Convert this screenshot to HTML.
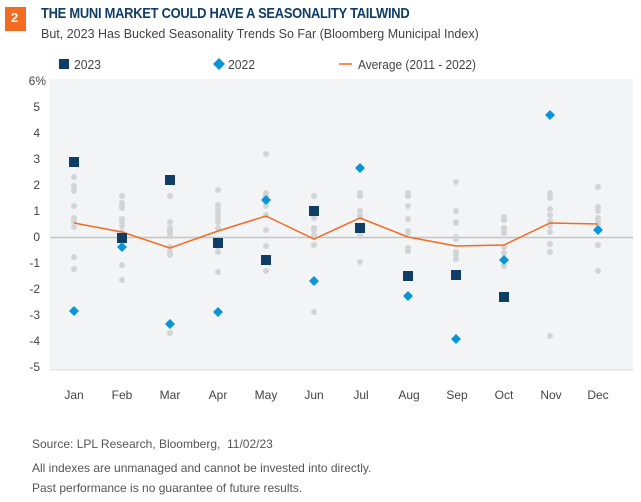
<!DOCTYPE html><html><head><style>
body{margin:0;width:641px;height:502px;background:#fff;font-family:"Liberation Sans",sans-serif;position:relative;overflow:hidden}
.t{position:absolute;white-space:nowrap;transform-origin:0 0}
</style></head><body>
<div style="position:absolute;left:5px;top:7px;width:21px;height:24px;background:#f26b21"></div>
<div class="t" style="left:11px;top:10px;color:#fff;font-weight:bold;font-size:13px">2</div>
<div class="t" style="left:41px;top:5px;color:#0f3d66;font-weight:bold;font-size:15px;letter-spacing:-0.3px;transform:scaleX(0.86)">THE MUNI MARKET COULD HAVE A SEASONALITY TAILWIND</div>
<div class="t" style="left:41px;top:27px;color:#444;font-size:12.5px">But, 2023 Has Bucked Seasonality Trends So Far (Bloomberg Municipal Index)</div>
<svg width="641" height="502" style="position:absolute;left:0;top:0">
<rect x="50" y="79" width="583" height="291" fill="#f2f4f6"/>
<line x1="50" y1="370" x2="633" y2="370" stroke="#ddd"/>
<line x1="50" y1="237.5" x2="633" y2="237.5" stroke="#c4c4c4" stroke-width="1.5"/>
<g font-size="12" fill="#444" text-anchor="end">
<text x="46" y="85">6%</text><text x="40" y="111">5</text><text x="40" y="137">4</text><text x="40" y="163">3</text><text x="40" y="189">2</text><text x="40" y="215">1</text><text x="40" y="241">0</text><text x="40" y="267">-1</text><text x="40" y="293">-2</text><text x="40" y="319">-3</text><text x="40" y="345">-4</text><text x="40" y="371">-5</text>
</g>
<g font-size="12" fill="#444" text-anchor="middle">
<text x="74" y="399">Jan</text><text x="122" y="399">Feb</text><text x="170" y="399">Mar</text><text x="218" y="399">Apr</text><text x="266" y="399">May</text><text x="314" y="399">Jun</text><text x="361" y="399">Jul</text><text x="409" y="399">Aug</text><text x="457" y="399">Sep</text><text x="504" y="399">Oct</text><text x="551" y="399">Nov</text><text x="598" y="399">Dec</text>
</g>
<g fill="#d3d4d6" id="d"></g>
<polyline fill="none" stroke="#f26b21" stroke-width="1.5" points="74,223 122,232 170,248 218,231 266,216 314,239 360,218 408,237 456,246 504,245 550,223 598,224"/>
<g id="s" fill="#0f3d66"></g>
<g id="k" fill="#0a96d6"></g>
<rect x="59" y="59" width="10" height="10" fill="#0f3d66"/>
<text x="74" y="69" font-size="13" fill="#444" textLength="27" lengthAdjust="spacingAndGlyphs">2023</text>
<path d="M219,58 L225,64 L219,70 L213,64Z" fill="#0a96d6"/>
<text x="228" y="69" font-size="13" fill="#444" textLength="27" lengthAdjust="spacingAndGlyphs">2022</text>
<line x1="339" y1="64" x2="352" y2="64" stroke="#f26b21" stroke-width="1.5"/>
<text x="358" y="69" font-size="13" fill="#444" textLength="118" lengthAdjust="spacingAndGlyphs">Average (2011 - 2022)</text>
</svg>
<div class="t" style="left:32px;top:437px;color:#555;font-size:12px">Source: LPL Research, Bloomberg,&nbsp; 11/02/23</div>
<div class="t" style="left:32px;top:461px;color:#555;font-size:12px">All indexes are unmanaged and cannot be invested into directly.</div>
<div class="t" style="left:32px;top:481px;color:#555;font-size:12px">Past performance is no guarantee of future results.</div>
<script>
var ns="http://www.w3.org/2000/svg";
var xs=[74,122,170,218,266,314,360,408,456,504,550,598];
var g=[[177,186,191,206,218,221,227,257,269],[196,203,206,208,219,222,226,232,248,265,280],[196,222,228,231,234,236,247,252,255,333],[190,205,209,214,218,222,228,247,252,272],[154,193,196,202,206,215,230,246,271],[196,218,228,230,235,237,245,312],[193,196,211,216,232,236,262],[193,196,206,219,231,233,248,251],[182,211,222,223,237,239,252,255,259],[217,220,228,231,233,247,253,266],[193,198,209,215,221,226,232,244,252,336],[187,207,211,218,220,224,227,245,271]];
var d=document.getElementById('d');
g.forEach(function(a,i){a.forEach(function(y){var c=document.createElementNS(ns,'circle');c.setAttribute('cx',xs[i]);c.setAttribute('cy',y);c.setAttribute('r',3);d.appendChild(c);});});
var sq=[162,238,180,243,260,211,228,276,275,297,null,null];
var s=document.getElementById('s');
sq.forEach(function(y,i){if(y==null)return;var r=document.createElementNS(ns,'rect');r.setAttribute('x',xs[i]-5);r.setAttribute('y',y-5);r.setAttribute('width',10);r.setAttribute('height',10);s.appendChild(r);});
var dm=[311,247,324,312,200,281,168,296,339,260,115,230];
var k=document.getElementById('k');
dm.forEach(function(y,i){var p=document.createElementNS(ns,'path');var x=xs[i];p.setAttribute('d','M'+x+','+(y-5)+' L'+(x+5)+','+y+' L'+x+','+(y+5)+' L'+(x-5)+','+y+'Z');k.appendChild(p);});
</script>
</body></html>
